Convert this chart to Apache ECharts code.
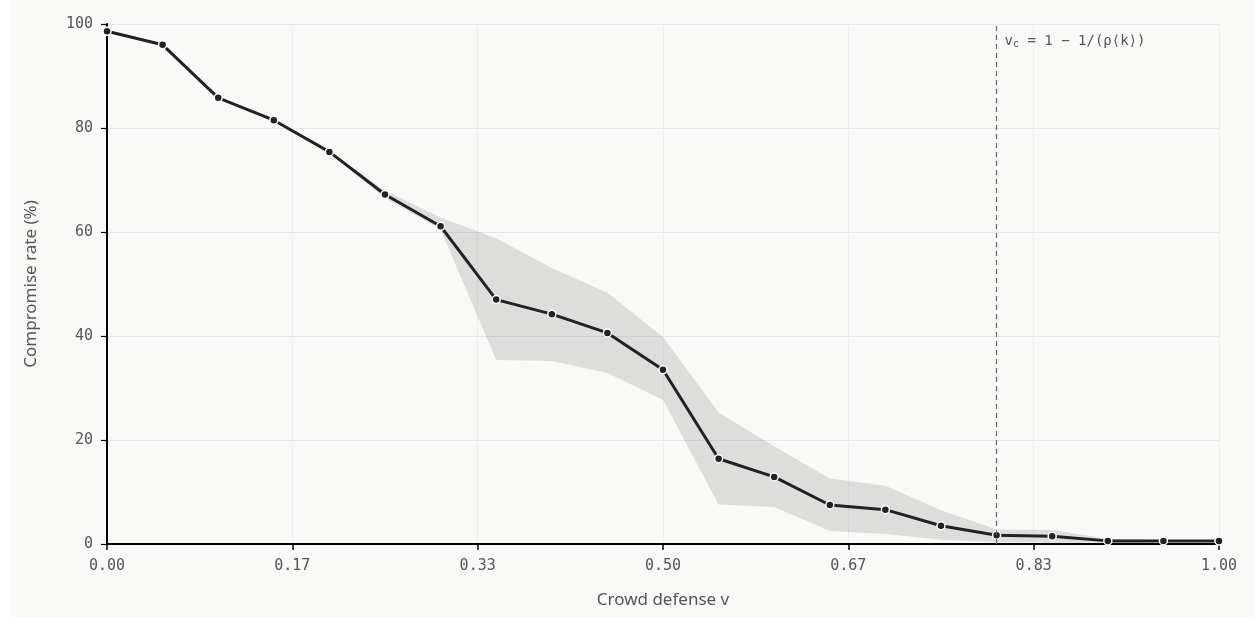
<!DOCTYPE html>
<html>
<head>
<meta charset="utf-8">
<script src="https://cdn.jsdelivr.net/npm/echarts@6/dist/echarts.min.js"></script>
<style>
  html, body { margin: 0; padding: 0; background: #ffffff; }
  #chart { position: absolute; left: 11px; top: 0; width: 1243px; height: 617px; background: #f9f9f8; }
</style>
</head>
<body>
<div id="chart"></div>
<script>
// Crowd defense levels (v) and mean compromise rate with its spread band
const defense = [0, 0.05, 0.10, 0.15, 0.20, 0.25, 0.30, 0.35, 0.40, 0.45, 0.50,
                 0.55, 0.60, 0.65, 0.70, 0.75, 0.80, 0.85, 0.90, 0.95, 1.00];
const compromise = [98.6, 96.0, 85.8, 81.5, 75.4, 67.2, 61.1, 47.0, 44.2, 40.6, 33.5,
                    16.4, 12.9, 7.5, 6.6, 3.5, 1.7, 1.5, 0.6, 0.6, 0.6];
const bandUpper = [98.6, 96.0, 85.8, 81.5, 75.6, 68.0, 62.8, 58.8, 53.1, 48.3, 39.8,
                   25.3, 18.8, 12.6, 11.2, 6.5, 2.8, 2.7, 1.0, 0.8, 0.7];
const bandLower = [98.6, 96.0, 85.8, 81.5, 75.2, 66.5, 60.5, 35.4, 35.2, 32.9, 27.7,
                   7.6, 7.1, 2.5, 1.9, 0.8, 0.4, 0.3, 0.3, 0.4, 0.5];
const xTicks = ['0.00', '0.17', '0.33', '0.50', '0.67', '0.83', '1.00'];
const yTicks = [0, 20, 40, 60, 80, 100];
const criticalDefense = 0.8;

const mono = '"DejaVu Sans Mono", monospace';
const sans = '"Noto Sans", "Open Sans", sans-serif';

const bandRows = defense.map((x, i) => [x, bandLower[i], bandUpper[i]]);
const meanPts = defense.map((x, i) => [x, compromise[i]]);

// Spread band: one polygon along the upper edge and back along the lower edge
function renderBand(params, api) {
  if (params.dataIndex !== 0) return;
  const pts = [];
  for (let i = 0; i < defense.length; i++) pts.push(api.coord([defense[i], bandUpper[i]]));
  for (let i = defense.length - 1; i >= 0; i--) pts.push(api.coord([defense[i], bandLower[i]]));
  return {
    type: 'polygon',
    shape: { points: pts },
    style: { fill: 'rgba(0,0,0,0.11)' }
  };
}

const chart = echarts.init(document.getElementById('chart'));
chart.setOption({
  animation: false,
  backgroundColor: '#f9f9f8',
  grid: { left: 96, right: 35, top: 24, bottom: 73 },
  xAxis: {
    type: 'value', min: 0, max: 1, interval: 1 / 6,
    name: 'Crowd defense v', nameLocation: 'middle', nameGap: 48,
    nameTextStyle: { fontFamily: sans, fontSize: 17, color: '#555' },
    axisLine: { lineStyle: { color: '#000', width: 2 } },
    axisTick: { show: true, length: 6, lineStyle: { color: '#000', width: 1.5 } },
    axisLabel: {
      fontFamily: mono, fontSize: 15, color: '#555', margin: 15,
      formatter: v => xTicks[Math.round(v * 6)]
    },
    splitLine: { show: true, lineStyle: { color: '#eeeeee', width: 1 } }
  },
  yAxis: {
    type: 'value', min: yTicks[0], max: yTicks[yTicks.length - 1], interval: 20,
    name: 'Compromise rate (%)', nameLocation: 'middle', nameGap: 67,
    nameTextStyle: { fontFamily: sans, fontSize: 17, color: '#555' },
    axisLine: { show: true, lineStyle: { color: '#000', width: 2 } },
    axisTick: { show: true, length: 6, lineStyle: { color: '#000', width: 1.2 } },
    axisLabel: { fontFamily: mono, fontSize: 15, color: '#555', margin: 14 },
    splitLine: { show: true, lineStyle: { color: '#e6e6e6', width: 1 } }
  },
  series: [
    {
      type: 'custom', data: bandRows, renderItem: renderBand,
      encode: { x: 0, y: [1, 2] }, silent: true, z: 1
    },
    {
      type: 'line', data: meanPts, symbol: 'circle', symbolSize: 8,
      lineStyle: { color: '#222', width: 3 },
      itemStyle: { color: '#222', borderColor: '#ffffff', borderWidth: 1.5 },
      z: 3,
      markLine: {
        silent: true, symbol: 'none',
        lineStyle: { color: '#666', type: [5, 4], width: 1.2 },
        label: { show: false },
        data: [{ xAxis: criticalDefense }]
      },
      markPoint: {
        silent: true, symbol: 'circle', symbolSize: 0,
        label: {
          show: true, position: 'right', distance: 5, offset: [3, 17],
          formatter: '{v|v}{sub|c}{v| = 1 − 1/(ρ⟨k⟩)}',
          rich: {
            v: { fontFamily: mono, fontSize: 14, color: '#555', lineHeight: 18 },
            sub: { fontFamily: mono, fontSize: 10, color: '#555', lineHeight: 18, padding: [7, 0, 0, 0] }
          }
        },
        data: [{ coord: [criticalDefense, yTicks[yTicks.length - 1]] }]
      }
    }
  ]
});
</script>
</body>
</html>
